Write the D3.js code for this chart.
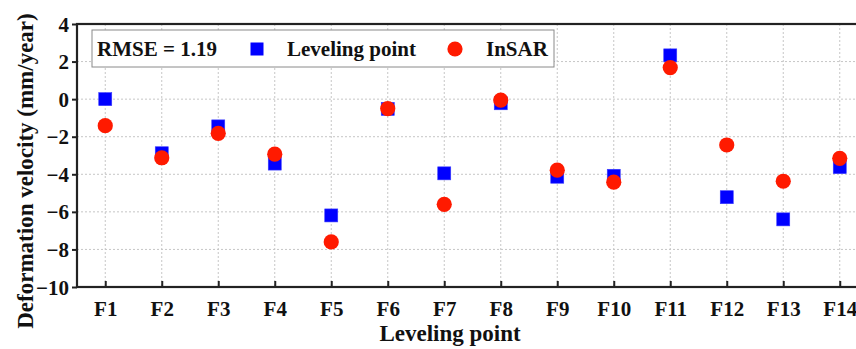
<!DOCTYPE html>
<html>
<head>
<meta charset="utf-8">
<script src="https://cdn.jsdelivr.net/npm/d3@7"></script>
<style>
  html, body { margin: 0; padding: 0; background: #fff; }
  svg { display: block; overflow: hidden; }
  text { font-family: "Liberation Serif", "Times New Roman", serif; font-weight: bold; fill: #111; }
</style>
</head>
<body>
<svg id="chart" width="856" height="349"></svg>
<script>
// Leveling points along the profile
const categories = ["F1","F2","F3","F4","F5","F6","F7","F8","F9","F10","F11","F12","F13","F14"];
// Deformation velocity (mm/year) from leveling
const leveling = [0.0, -2.88, -1.45, -3.43, -6.19, -0.52, -3.95, -0.22, -4.13, -4.08, 2.33, -5.22, -6.4, -3.62];
// Deformation velocity (mm/year) from InSAR
const insar = [-1.41, -3.12, -1.82, -2.93, -7.6, -0.5, -5.6, -0.05, -3.78, -4.42, 1.68, -2.44, -4.37, -3.15];
const yTicks = [4, 2, 0, -2, -4, -6, -8, -10];
const rmseLabel = "RMSE = 1.19";

const svg = d3.select("#chart");
const plot = { left: 77, right: 868, top: 24, bottom: 287 };

const x = d3.scaleLinear().domain([0.5, categories.length + 0.5]).range([plot.left, plot.right]);
const y = d3.scaleLinear().domain([-10, 4]).range([plot.bottom, plot.top]);

// dashed grid
const grid = svg.append("g");
grid.selectAll(".vg").data(categories).join("line")
  .attr("x1", (d, i) => x(i + 1)).attr("x2", (d, i) => x(i + 1))
  .attr("y1", plot.top).attr("y2", plot.bottom)
  .attr("stroke", "#c6c6c6").attr("stroke-width", 1).attr("stroke-dasharray", "2,2");
grid.selectAll(".hg").data(yTicks.filter(t => t > -10 && t < 4)).join("line")
  .attr("x1", plot.left).attr("x2", plot.right)
  .attr("y1", d => y(d)).attr("y2", d => y(d))
  .attr("stroke", "#c6c6c6").attr("stroke-width", 1).attr("stroke-dasharray", "2,2");

// axes
const yAxis = d3.axisLeft(y).tickValues(yTicks).tickSize(5).tickPadding(3).tickFormat(d3.format("d"));
const gy = svg.append("g").attr("transform", `translate(${plot.left},0)`).call(yAxis);
gy.select(".domain").remove();
gy.selectAll(".tick line").attr("stroke", "#222").attr("stroke-width", 2);
gy.selectAll(".tick text").style("font-size", "21px").attr("dy", "0.34em")
  .style("font-family", "Liberation Serif").style("font-weight", "bold").attr("fill", "#111");

const xAxis = d3.axisBottom(x).tickValues(d3.range(1, categories.length + 1))
  .tickFormat(d => categories[d - 1]).tickSize(-6).tickPadding(14);
const gx = svg.append("g").attr("transform", `translate(0,${plot.bottom})`).call(xAxis);
gx.select(".domain").remove();
gx.selectAll(".tick line").attr("stroke", "#222").attr("stroke-width", 2);
gx.selectAll(".tick text").style("font-size", "21px")
  .style("font-family", "Liberation Serif").style("font-weight", "bold").attr("fill", "#111");

// frame
svg.append("rect")
  .attr("x", plot.left).attr("y", plot.top)
  .attr("width", plot.right - plot.left).attr("height", plot.bottom - plot.top)
  .attr("fill", "none").attr("stroke", "#222").attr("stroke-width", 2.2);

// markers
const sq = 13;
svg.append("g").selectAll("rect").data(leveling).join("rect")
  .attr("x", (d, i) => x(i + 1) - sq / 2).attr("y", d => y(d) - sq / 2)
  .attr("width", sq).attr("height", sq)
  .attr("fill", "#0000ff").attr("stroke", "#3a3aff").attr("stroke-width", 0.6);
svg.append("g").selectAll("circle").data(insar).join("circle")
  .attr("cx", (d, i) => x(i + 1)).attr("cy", d => y(d)).attr("r", 7.6)
  .attr("fill", "#ff1a00");

// legend
const lg = svg.append("g");
lg.append("rect").attr("x", 92).attr("y", 30).attr("width", 462).attr("height", 37)
  .attr("fill", "#fff").attr("stroke", "#8a8a8a").attr("stroke-width", 1);
lg.append("text").attr("x", 97).attr("y", 56).style("font-size", "21px").text(rmseLabel);
lg.append("rect").attr("x", 257 - sq / 2).attr("y", 49 - sq / 2).attr("width", sq).attr("height", sq)
  .attr("fill", "#0000ff");
lg.append("text").attr("x", 287).attr("y", 56).style("font-size", "21px").text("Leveling point");
lg.append("circle").attr("cx", 455).attr("cy", 49).attr("r", 7.6).attr("fill", "#ff1a00");
lg.append("text").attr("x", 486).attr("y", 56).style("font-size", "21px").text("InSAR");

// axis titles
svg.append("text").attr("x", 450).attr("y", 341).attr("text-anchor", "middle")
  .style("font-size", "23px").text("Leveling point");
svg.append("text").attr("transform", "translate(33,171) rotate(-90)").attr("text-anchor", "middle")
  .style("font-size", "23px").text("Deformation velocity (mm/year)");
</script>
</body>
</html>
